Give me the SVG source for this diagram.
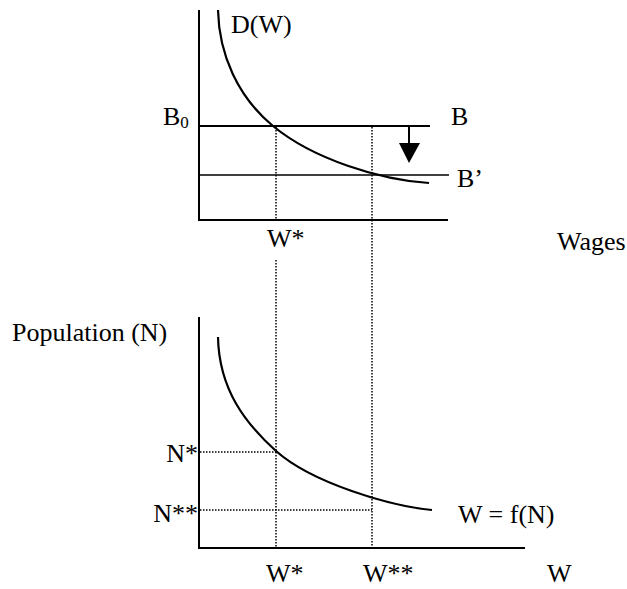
<svg xmlns="http://www.w3.org/2000/svg" width="627" height="589" viewBox="0 0 627 589">
<style>
text{font-family:"Liberation Serif","Times New Roman",serif;font-size:26px;fill:#000}
.ax{stroke:#000;stroke-width:2;fill:none}
.cv{stroke:#000;stroke-width:2.2;fill:none}
.dot{stroke:#000;stroke-width:1.5;stroke-dasharray:1.5 1.5;fill:none}
</style>
<rect width="627" height="589" fill="#fff"/>
<g id="connectors">
<line class="dot" x1="276" y1="127" x2="276" y2="220"/>
<line class="dot" x1="276" y1="260" x2="276" y2="547"/>
<line class="dot" x1="372" y1="127" x2="372" y2="547"/>
<line class="dot" x1="200" y1="452" x2="276" y2="452"/>
<line class="dot" x1="200" y1="510" x2="372" y2="510"/>
</g>
<g id="top-chart">
<path class="ax" d="M199,10 V220 H448"/>
<line class="ax" x1="199" y1="126" x2="430" y2="126"/>
<line class="ax" x1="199" y1="175" x2="449" y2="175" style="stroke-width:1.7"/>
<path class="cv" d="M218,10 C219,55 238,97 273,126 C313,159 380,180 429,183"/>
<line class="ax" x1="409" y1="126" x2="409" y2="145"/>
<polygon points="399,143 420,143 409,163" fill="#000"/>
<text x="231" y="33">D(W)</text>
<text x="163" y="125">B<tspan font-size="17" dy="3">0</tspan></text>
<text x="451" y="125">B</text>
<text x="457" y="187">B’</text>
<text x="267" y="247">W*</text>
<text x="557" y="250">Wages</text>
</g>
<g id="bottom-chart">
<path class="ax" d="M199,317 V548 H525"/>
<path class="cv" d="M218,337 C219,390 246,424 276,451 C312,483 390,506 432,510"/>
<text x="12" y="341">Population (N)</text>
<text x="198" y="462" text-anchor="end">N*</text>
<text x="198" y="522" text-anchor="end">N**</text>
<text x="458" y="523">W = f(N)</text>
<text x="266" y="582">W*</text>
<text x="363" y="582">W**</text>
<text x="547" y="582">W</text>
</g>
</svg>
